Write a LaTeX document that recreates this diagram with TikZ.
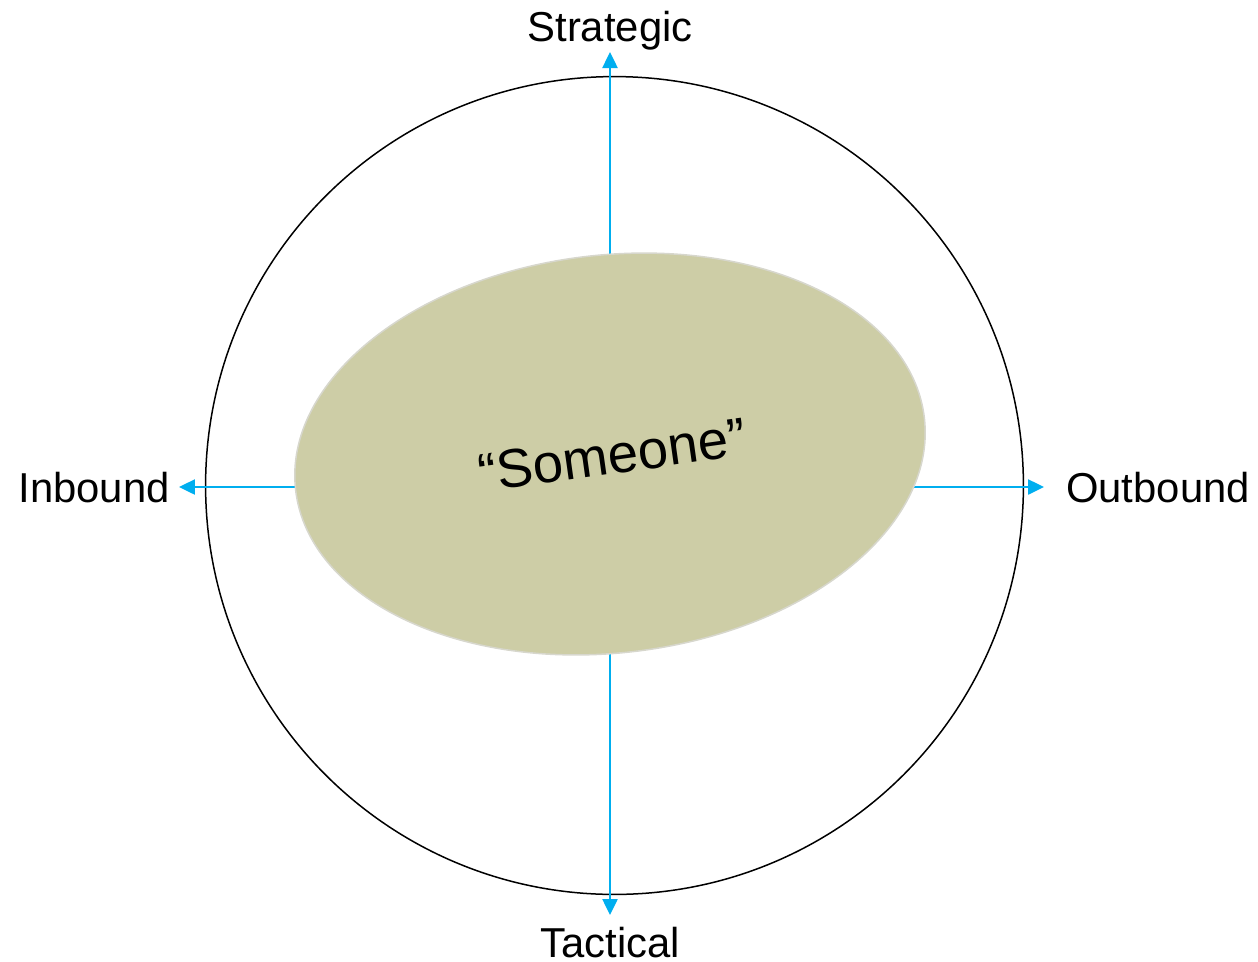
\documentclass[tikz,border=0pt]{standalone}
\usepackage{fontspec}
\setmainfont{Liberation Sans}
\usetikzlibrary{shapes.geometric,arrows.meta}
\definecolor{arrowblue}{RGB}{0,174,239}
\definecolor{olive}{RGB}{205,205,166}
\definecolor{rimgray}{RGB}{215,215,205}
\tikzset{
  axis/.style={draw=arrowblue, line width=0.05cm, -{Triangle[length=0.32cm,width=0.3cm]}},
  label/.style={anchor=base, inner sep=0pt, font=\fontsize{23.8}{28}\selectfont},
}
\begin{document}
\begin{tikzpicture}[x=0.02cm,y=-0.02cm]
\useasboundingbox (0,0) rectangle (1258,961);
% outer circle
\node[circle, draw=black, line width=0.03cm, minimum size=16.36cm, inner sep=0pt] (circ) at (614.5,485.5) {};
% coordinates
\coordinate (vs) at (610,454);
\coordinate (ls) at (610,487);
\coordinate (rs) at (610,487);
\coordinate (tipT) at (610,52);
\coordinate (tipB) at (610,915);
\coordinate (tipL) at (179,487);
\coordinate (tipR) at (1044,487);
% arrows (behind ellipse)
\draw[axis] (vs) -- (tipT);
\draw[axis] (vs) -- (tipB);
\draw[axis] (ls) -- (tipL);
\draw[axis] (rs) -- (tipR);
% ellipse
\node[ellipse, fill=olive, draw=rimgray, line width=0.03cm, minimum width=12.66cm, minimum height=7.96cm, inner sep=0pt, rotate=6.5] (someone) at (610,454) {};
\node[rotate=8, inner sep=0pt, font=\fontsize{31}{36}\selectfont] (txt) at (612,455) {“Someone”};
% labels
\node[label] (strat) at (610,41) {Strategic};
\node[label] (tact) at (610,957) {Tactical};
\node[label] (inb) at (94,502) {Inbound};
\node[label] (outb) at (1158,502) {Outbound};
\end{tikzpicture}
\end{document}
